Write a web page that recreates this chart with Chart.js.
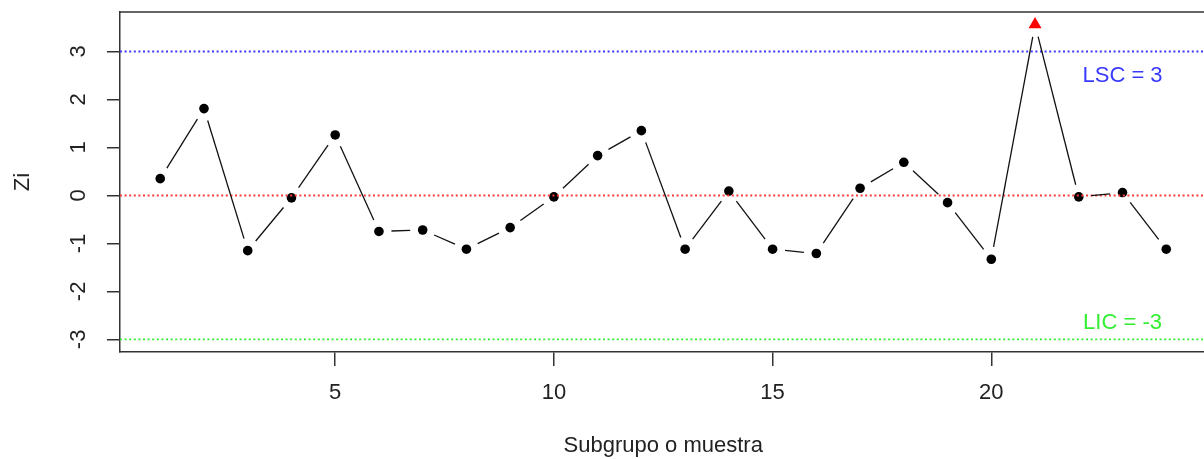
<!DOCTYPE html>
<html>
<head>
<meta charset="utf-8">
<script src="https://cdn.jsdelivr.net/npm/chart.js@4/dist/chart.umd.min.js"></script>
<style>
  html, body { margin: 0; padding: 0; background: #ffffff; overflow: hidden; }
  #wrap { width: 1214px; height: 459px; }
</style>
</head>
<body>
<div id="wrap"><canvas id="chart" width="1214" height="459"></canvas></div>
<script>
// Subgroup numbers and standardized statistic Zi
const subgroups = [1, 2, 3, 4, 5, 6, 7, 8, 9, 10, 11, 12, 13, 14, 15, 16, 17, 18, 19, 20, 21, 22, 23, 24];
const ziValues = [0.35, 1.81, -1.15, -0.05, 1.26, -0.75, -0.72, -1.12, -0.67, -0.03, 0.83, 1.35,
                  -1.12, 0.09, -1.12, -1.21, 0.15, 0.69, -0.15, -1.33, 3.56, -0.03, 0.06, -1.12];

// Control limits: upper, centre, lower
const limitValues = [3, 0, -3];
const limitColors = ['#3a3aff', '#ff3b3b', '#33ee33'];
const limitTexts = ['LSC = 3', '', 'LIC = -3'];
const limitTextX = [23, 23, 23];
const limitTextY = [2.5, 0, -2.65];

// Tick labels
const xTicks = [5, 10, 15, 20];
const yTicks = [-3, -2, -1, 0, 1, 2, 3];

const FONT = 'Liberation Sans, Arial, sans-serif';
const UCL = limitValues[0], LCL = limitValues[2];

// axis ranges padded by 4% on each side
function padRange(lo, hi) { const d = (hi - lo) * 0.04; return [lo - d, hi + d]; }
const [xMin, xMax] = padRange(Math.min(...subgroups), Math.max(...subgroups));
const [yMin, yMax] = padRange(Math.min(LCL, ...ziValues), Math.max(UCL, ...ziValues));

const isOut = v => v > UCL || v < LCL;

const limitDatasets = limitValues.map((v, i) => ({
  data: [{ x: xMin, y: v }, { x: xMax, y: v }],
  showLine: true,
  borderColor: limitColors[i],
  borderWidth: 1.9,
  borderDash: [2, 2.6],
  pointRadius: 0
}));

const seriesDataset = {
  data: subgroups.map((x, i) => ({ x, y: ziValues[i] })),
  showLine: false,
  pointStyle: ziValues.map(v => isOut(v) ? 'triangle' : 'circle'),
  pointRadius: ziValues.map(v => isOut(v) ? 7.5 : 4.8),
  pointBackgroundColor: ziValues.map(v => isOut(v) ? '#ff0000' : '#000000'),
  pointBorderColor: ziValues.map(v => isOut(v) ? '#ff0000' : '#000000'),
  pointBorderWidth: 0
};

// connect the points with segments that stop short of each marker
const gappedLine = {
  id: 'gappedLine',
  afterDatasetsDraw(chart) {
    const meta = chart.getDatasetMeta(limitDatasets.length);
    const pts = meta.data;
    const gap = 12.5;
    const ctx = chart.ctx;
    ctx.save();
    ctx.strokeStyle = '#111';
    ctx.lineWidth = 1.3;
    for (let i = 0; i < pts.length - 1; i++) {
      const a = pts[i], b = pts[i + 1];
      const dx = b.x - a.x, dy = b.y - a.y;
      const len = Math.hypot(dx, dy);
      if (len <= 2 * gap) continue;
      const ux = dx / len, uy = dy / len;
      ctx.beginPath();
      ctx.moveTo(a.x + ux * gap, a.y + uy * gap);
      ctx.lineTo(b.x - ux * gap, b.y - uy * gap);
      ctx.stroke();
    }
    ctx.restore();
  },
  afterDraw(chart) {
    const ctx = chart.ctx;
    const { left, right, top, bottom } = chart.chartArea;
    const xs = chart.scales.x, ys = chart.scales.y;
    ctx.save();
    // frame: top and right sides
    ctx.strokeStyle = '#333';
    ctx.lineWidth = 1.5;
    ctx.beginPath();
    ctx.moveTo(left, top);
    ctx.lineTo(right, top);
    ctx.lineTo(right, bottom);
    ctx.stroke();
    // vertical y tick labels
    ctx.fillStyle = '#222';
    ctx.font = '22px ' + FONT;
    ctx.textAlign = 'center';
    ctx.textBaseline = 'middle';
    yTicks.forEach(v => {
      const p = ys.getPixelForValue(v);
      ctx.save();
      ctx.translate(79, p);
      ctx.rotate(-Math.PI / 2);
      ctx.fillText(String(v), 0, 0);
      ctx.restore();
    });
    // control limit captions
    limitTexts.forEach((t, i) => {
      if (!t) return;
      ctx.fillStyle = limitColors[i];
      ctx.fillText(t, xs.getPixelForValue(limitTextX[i]), ys.getPixelForValue(limitTextY[i]));
    });
    ctx.restore();
  }
};

new Chart(document.getElementById('chart'), {
  type: 'scatter',
  data: { datasets: [...limitDatasets, seriesDataset] },
  options: {
    responsive: false,
    animation: false,
    events: [],
    layout: { padding: { top: 12, right: 3, left: 0, bottom: 0 } },
    plugins: { legend: { display: false }, tooltip: { enabled: false } },
    scales: {
      x: {
        type: 'linear',
        min: xMin,
        max: xMax,
        afterBuildTicks: s => { s.ticks = xTicks.map(v => ({ value: v })); },
        afterFit: s => { s.height = 107; },
        grid: { drawOnChartArea: false, drawTicks: true, tickLength: 14, color: '#333', lineWidth: 1.5 },
        border: { display: true, color: '#333', width: 1.5 },
        ticks: { font: { family: FONT, size: 22 }, color: '#222', padding: 14, maxRotation: 0 },
        title: { display: true, text: 'Subgrupo o muestra', font: { family: FONT, size: 22 }, color: '#222', padding: { top: 0, bottom: 0 } }
      },
      y: {
        type: 'linear',
        min: yMin,
        max: yMax,
        afterBuildTicks: s => { s.ticks = yTicks.map(v => ({ value: v })); },
        afterFit: s => { s.width = 120; },
        grid: { drawOnChartArea: false, drawTicks: true, tickLength: 13, color: '#333', lineWidth: 1.5 },
        border: { display: true, color: '#333', width: 1.5 },
        ticks: { display: false },
        title: { display: true, text: 'Zi', font: { family: FONT, size: 22 }, color: '#222', padding: { top: 10, bottom: 0 } }
      }
    }
  },
  plugins: [gappedLine]
});
</script>
</body>
</html>
